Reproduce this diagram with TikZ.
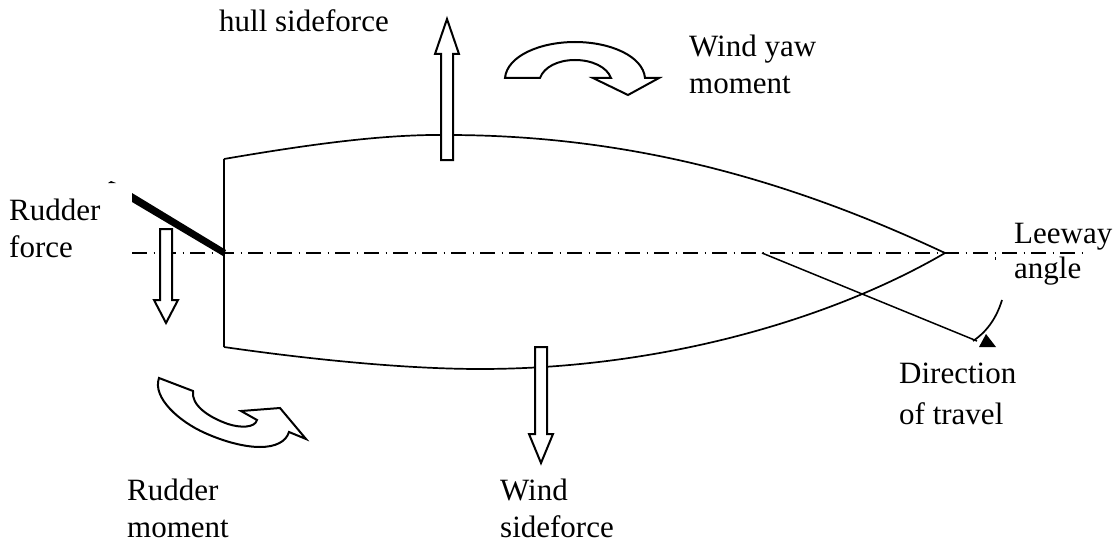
\documentclass[tikz,border=0pt]{standalone}
\usepackage{fontspec}
\setmainfont{Liberation Serif}
\begin{document}
\begin{tikzpicture}[x=1pt,y=-1pt,
  line/.style={draw=black,line width=1.7pt,line join=miter},
  arrowshape/.style={draw=black,fill=white,line width=2pt,line join=miter},
  lbl/.style={inner sep=0pt,anchor=base west,font=\fontsize{31}{34}\selectfont}]
\useasboundingbox (0,0) rectangle (1117,543);
\fill[white] (0,0) rectangle (1117,543);
% hull
\coordinate (tl) at (224,159);
\coordinate (bl) at (224,347);
\coordinate (tip) at (945,253);
\draw[line] (tl) -- (bl);
\draw[line] (tl) .. controls (300,146) and (380,134) .. (447,135) .. controls (640,135) and (800,185) .. (tip);
\draw[line] (bl) .. controls (300,358) and (400,369) .. (480,369) .. controls (660,369) and (830,320) .. (tip);
% centre line
\coordinate (cl0) at (132,253);
\coordinate (cl1) at (1083,253);
\draw[line,line width=1.4pt,dash pattern=on 15pt off 6.5pt on 1.5pt off 6pt] (cl0) -- (cl1);
\fill (994.5,257) rectangle (995.5,260);
% rudder
\coordinate (rud) at (224,253);
\fill (132,193) -- (132,202) -- (223,256) -- (226,250) -- cycle;
\fill (111,181) -- (116,183) -- (108,183) -- cycle;
% direction of travel
\coordinate (d0) at (762,253);
\coordinate (d1) at (977,341);
\draw[line,line width=1.5pt] (d0) -- (d1);
\draw[line] (1002,300) .. controls (996,320) and (985,333) .. (973,341);
\fill (986,334) -- (996,347) -- (979,347) -- cycle;
% straight arrows
\draw[arrowshape] (160,229) -- (172,229) -- (172,300) -- (178,300) -- (166,323) -- (154,300) -- (160,300) -- cycle;
\draw[arrowshape] (441,160) -- (453,160) -- (453,54) -- (459,54) -- (447,19) -- (435,54) -- (441,54) -- cycle;
\draw[arrowshape] (535,347) -- (547,347) -- (547,434) -- (553,434) -- (541,463) -- (529,434) -- (535,434) -- cycle;
% yaw moment
\draw[arrowshape] (505,78) .. controls (507,56) and (540,42) .. (575,42) .. controls (610,42) and (643,56) .. (645,78)
  -- (659,78) -- (628,95) -- (593,78) -- (611,78) .. controls (607,67) and (592,60) .. (575,60) .. controls (558,60) and (544,67) .. (540,78) -- cycle;
% rudder moment
\draw[arrowshape] (159,378) .. controls (152,398) and (180,422) .. (205,433) .. controls (225,442) and (245,447) .. (260,447) .. controls (275,447) and (286,442) .. (289,432)
  -- (306,439) -- (280,408) -- (241,411) -- (257,420) .. controls (255,428) and (240,428) .. (228,424) .. controls (208,417) and (191,405) .. (193,391) -- cycle;
% labels
\node[lbl] (hs) at (219,32) {hull sideforce};
\node[lbl] (wy) at (689,57) {Wind yaw};
\node[lbl] (wm) at (689,93) {moment};
\node[lbl] (r1) at (9,220) {Rudder};
\node[lbl] (r2) at (9,257) {force};
\node[lbl] (l1) at (1014,243) {Leeway};
\node[lbl] (l2) at (1014,278) {angle};
\node[lbl] (d1t) at (899,383) {Direction};
\node[lbl] (d2t) at (899,424) {of travel};
\node[lbl] (rm1) at (127,500) {Rudder};
\node[lbl] (rm2) at (127,537) {moment};
\node[lbl] (ws1) at (500,500) {Wind};
\node[lbl] (ws2) at (500,537) {sideforce};
\end{tikzpicture}
\end{document}
